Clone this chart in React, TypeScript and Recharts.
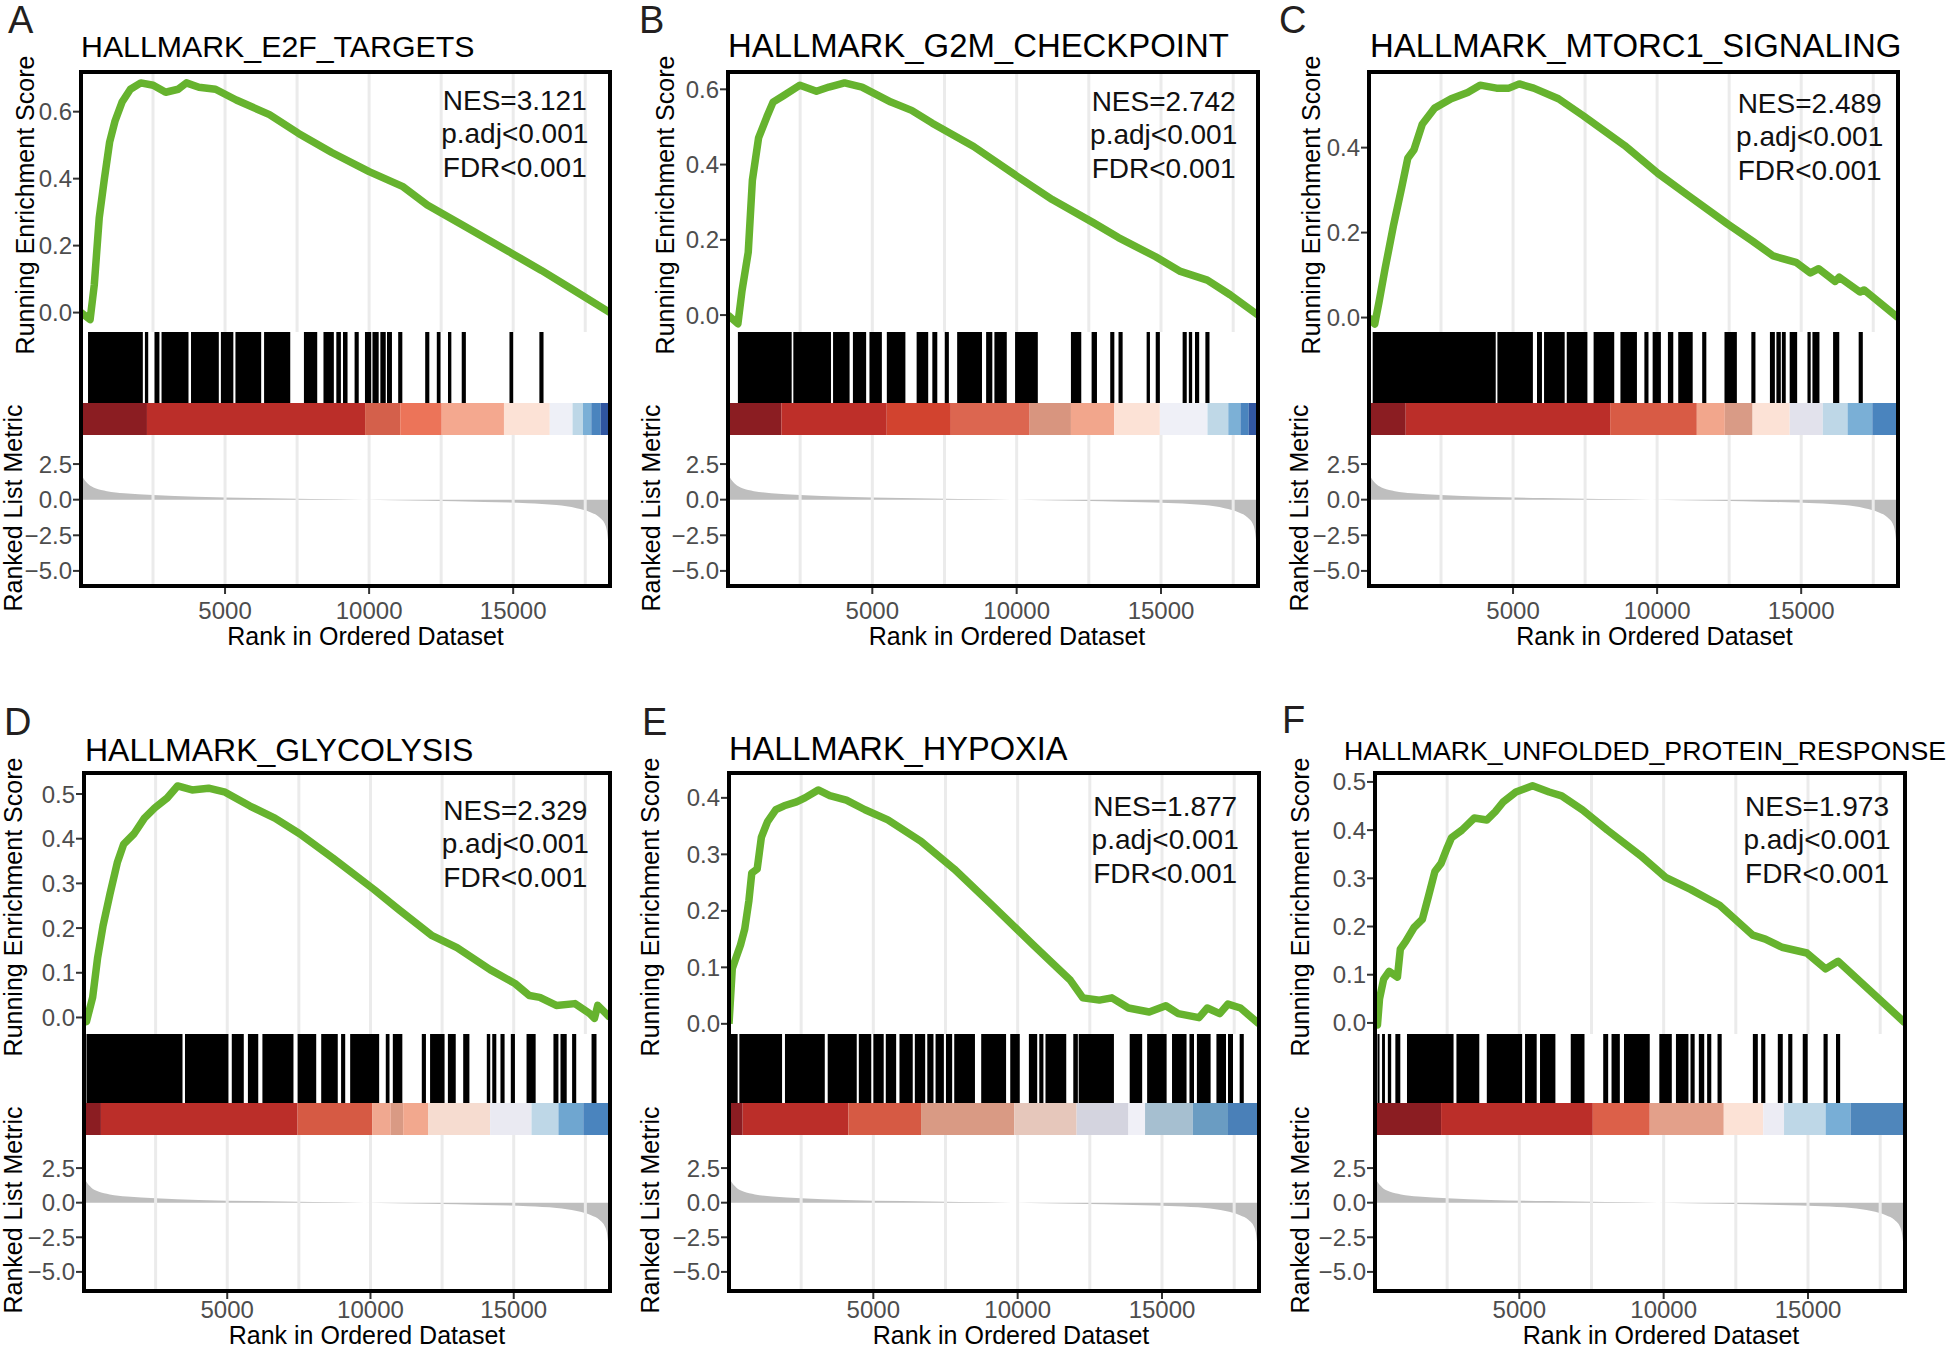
import React from 'react'
import {
  ComposedChart,
  LineChart,
  AreaChart,
  Line,
  Area,
  XAxis,
  YAxis,
  ReferenceArea,
  ReferenceLine,
} from 'recharts'

const FONT = '"Liberation Sans", Arial, Helvetica, sans-serif'
const GREEN = '#66B32E'
const X_MAX = 18360
const GRID_X = [2500, 5000, 7500, 10000, 12500, 15000, 17500]
const X_TICKS = [5000, 10000, 15000]
const RANK_TICKS = [-5, -2.5, 0, 2.5]

// ranked list metric (same ordered dataset for every panel)
const RANK_X = [1, 100, 250, 500, 900, 1500, 2500, 4000, 6000, 8000, 9800, 12000, 14000, 15500, 16500, 17200, 17700, 18000, 18200, 18280, 18330, 18360]
const RANK_M = [1.8, 1.45, 1.1, 0.8, 0.6, 0.45, 0.32, 0.2, 0.12, 0.05, 0.0, -0.08, -0.16, -0.25, -0.38, -0.6, -0.9, -1.25, -1.8, -2.6, -4.0, -5.8]

// A  HALLMARK_E2F_TARGETS
const E2F_X = [1, 317, 461, 634, 807, 994, 1182, 1427, 1715, 2075, 2507, 2940, 3372, 3660, 4093, 4669, 5390, 6542, 7551, 8704, 10001, 11154, 12018, 13315, 14972, 15981, 17062, 18360]
const E2F_ES = [0.0, -0.021, 0.082, 0.283, 0.396, 0.509, 0.572, 0.629, 0.667, 0.686, 0.679, 0.658, 0.667, 0.686, 0.673, 0.667, 0.635, 0.591, 0.535, 0.478, 0.421, 0.377, 0.321, 0.258, 0.176, 0.126, 0.069, 0.0]
const E2F_HITS = [[245, 2147], [2219, 2334], [2551, 2723], [2796, 3732], [3819, 4784], [4856, 5288], [5361, 6254], [6355, 7263], [7738, 8199], [8416, 8776], [8862, 9021], [9093, 9251], [9496, 9640], [9856, 10073], [10116, 10332], [10390, 10577], [10620, 10793], [11009, 11153], [11946, 12090], [12349, 12479], [12738, 12854], [13214, 13358], [14871, 15001], [15909, 16053]]
const E2F_EDGES = [1, 2290, 9860, 11080, 12520, 14680, 16270, 17060, 17420, 17710, 18040, 18360]
const E2F_COLORS = ['#8B1D22', '#BB2E29', '#D4604B', '#EC7459', '#F4A88F', '#FCE2D6', '#EEF0F7', '#BDD7E7', '#7AAFD6', '#4A84BE', '#2F55A0']

// B  HALLMARK_G2M_CHECKPOINT
const G2M_X = [1, 344, 487, 702, 845, 1060, 1347, 1562, 1920, 2493, 3066, 3496, 4040, 4642, 5645, 6361, 7077, 8510, 10014, 11232, 12665, 13524, 14814, 15673, 16604, 17392, 18360]
const G2M_ES = [0.0, -0.023, 0.065, 0.167, 0.358, 0.471, 0.527, 0.566, 0.583, 0.611, 0.595, 0.606, 0.617, 0.606, 0.566, 0.544, 0.51, 0.448, 0.369, 0.307, 0.245, 0.206, 0.155, 0.116, 0.093, 0.054, 0.0]
const G2M_HITS = [[344, 2207], [2264, 3568], [3640, 4213], [4328, 4786], [4901, 5331], [5503, 6146], [6535, 6936], [7079, 7251], [7509, 7652], [7939, 8799], [8942, 9157], [9229, 9658], [9945, 10733], [11880, 12238], [12596, 12782], [13241, 13384], [13528, 13671], [14502, 14617], [14817, 14961], [15749, 15892], [15964, 16079], [16178, 16322], [16537, 16680]]
const G2M_EDGES = [1, 1850, 5500, 7720, 10450, 11880, 13380, 14960, 16610, 17330, 17750, 18040, 18360]
const G2M_COLORS = ['#8B1D22', '#BE2F29', '#D2432F', '#DC6650', '#D8957F', '#F2A68C', '#FCE2D6', '#EFF0F7', '#BFD8E7', '#7CB0D6', '#4A84BE', '#3157A2']

// C  HALLMARK_MTORC1_SIGNALING
const MTORC1_X = [1, 200, 344, 559, 845, 1132, 1347, 1562, 1849, 2278, 2852, 3425, 3855, 4428, 4858, 5216, 5716, 6576, 7437, 8870, 10017, 11020, 12453, 13313, 14030, 14818, 15320, 15607, 16180, 16323, 17040, 17183, 18360]
const MTORC1_ES = [0.0, -0.015, 0.035, 0.115, 0.215, 0.305, 0.375, 0.395, 0.455, 0.493, 0.515, 0.53, 0.547, 0.54, 0.54, 0.55, 0.54, 0.515, 0.475, 0.405, 0.34, 0.29, 0.22, 0.18, 0.145, 0.13, 0.105, 0.115, 0.085, 0.095, 0.06, 0.065, 0.0]
const MTORC1_HITS = [[129, 4399], [4457, 5689], [5832, 6004], [6076, 6792], [6864, 7581], [7796, 8512], [8727, 9300], [9558, 9701], [9845, 10131], [10375, 10561], [10733, 11235], [11564, 11708], [12338, 12768], [13270, 13413], [13915, 14087], [14140, 14293], [14330, 14464], [14601, 14860], [15218, 15330], [15390, 15634], [16107, 16322], [16995, 17139]]
const MTORC1_EDGES = [1, 1275, 8370, 11378, 12350, 13313, 14602, 15749, 16609, 17468, 18360]
const MTORC1_COLORS = ['#8B1D22', '#BB2E29', '#D85B45', '#F2A68C', '#D99B86', '#FCE2D6', '#E2E2EC', '#BED7E7', '#7AAFD6', '#4A84BE']

// D  HALLMARK_GLYCOLYSIS
const GLYCO_X = [1, 87, 303, 477, 665, 910, 1170, 1387, 1748, 2110, 2471, 2904, 3266, 3771, 4349, 4927, 5794, 6661, 7528, 8684, 10129, 10996, 12152, 13019, 14175, 15042, 15548, 15909, 16487, 17137, 17643, 17817, 17932, 18360]
const GLYCO_ES = [0.0, -0.009, 0.045, 0.134, 0.205, 0.277, 0.348, 0.388, 0.411, 0.446, 0.469, 0.491, 0.518, 0.509, 0.513, 0.504, 0.473, 0.446, 0.411, 0.357, 0.286, 0.241, 0.183, 0.156, 0.107, 0.076, 0.049, 0.045, 0.027, 0.031, 0.009, -0.002, 0.027, 0.0]
const GLYCO_HITS = [[87, 3439], [3526, 5043], [5159, 5578], [5722, 6083], [6228, 7312], [7456, 8106], [8280, 8858], [8974, 9118], [9291, 10303], [10534, 10664], [10780, 11112], [11791, 11936], [12080, 12586], [12702, 12976], [13236, 13453], [14060, 14180], [14250, 14392], [14537, 14681], [14898, 15042], [15447, 15765], [16386, 16560], [16632, 16849], [17037, 17181], [17716, 17889]]
const GLYCO_EDGES = [1, 592, 7456, 10057, 10708, 11141, 12008, 14175, 15620, 16560, 17427, 18360]
const GLYCO_COLORS = ['#8B1D22', '#BB2E29', '#D65A44', '#F0A890', '#D99A84', '#F2A88E', '#F6DCD0', '#EAEAF2', '#BED7E7', '#6FA6D0', '#4A84BE']

// E  HALLMARK_HYPOXIA
const HYPOXIA_X = [1, 115, 259, 402, 546, 690, 790, 977, 1121, 1336, 1624, 1911, 2342, 2630, 3090, 3492, 4067, 4713, 5504, 6653, 7803, 9096, 10533, 11252, 11827, 12258, 12832, 13263, 13838, 14557, 15132, 15563, 16281, 16569, 17000, 17287, 17718, 18360]
const HYPOXIA_ES = [0.0, 0.098, 0.119, 0.14, 0.168, 0.218, 0.267, 0.274, 0.33, 0.358, 0.379, 0.386, 0.393, 0.4, 0.414, 0.404, 0.396, 0.379, 0.361, 0.323, 0.274, 0.211, 0.14, 0.105, 0.077, 0.046, 0.042, 0.046, 0.028, 0.021, 0.032, 0.018, 0.011, 0.028, 0.018, 0.035, 0.028, 0.0]
const HYPOXIA_HITS = [[1, 300], [360, 1839], [1940, 3319], [3420, 4426], [4498, 4929], [5001, 5360], [5432, 5791], [5906, 6366], [6438, 6797], [6869, 7084], [7156, 7444], [7516, 7731], [7803, 8521], [8737, 9599], [9743, 10073], [10389, 10677], [10749, 10892], [10964, 11683], [11927, 12085], [12114, 13335], [13881, 14313], [14485, 15160], [15347, 15850], [15951, 16109], [16209, 16684], [16885, 17216], [17287, 17460], [17690, 17833]]
const HYPOXIA_EDGES = [1, 474, 4138, 6653, 9886, 12042, 13838, 14413, 16066, 17287, 18360]
const HYPOXIA_COLORS = ['#8B1D22', '#BB2E29', '#D65A44', '#D99A84', '#E6C7BB', '#D4D4DF', '#F0F0F7', '#A6BFD0', '#6A9CC2', '#4A80B8']

// F  HALLMARK_UNFOLDED_PROTEIN_RESPONSE
const UPR_X = [1, 86, 158, 302, 490, 778, 878, 1066, 1354, 1642, 1858, 2074, 2290, 2506, 2650, 3010, 3442, 3874, 4162, 4450, 4882, 5458, 6034, 6466, 7186, 8050, 9202, 10066, 10930, 11938, 13090, 13522, 14098, 14962, 15610, 16042, 18360]
const UPR_ES = [0.0, -0.004, 0.05, 0.091, 0.107, 0.095, 0.153, 0.169, 0.198, 0.215, 0.264, 0.314, 0.331, 0.364, 0.384, 0.4, 0.425, 0.421, 0.438, 0.459, 0.479, 0.492, 0.479, 0.471, 0.442, 0.4, 0.347, 0.302, 0.277, 0.244, 0.182, 0.174, 0.157, 0.145, 0.112, 0.128, 0.0]
const UPR_HITS = [[86, 158], [245, 346], [446, 562], [706, 878], [1109, 2722], [2822, 3614], [3874, 5098], [5198, 5602], [5717, 6250], [6782, 7258], [7906, 8078], [8194, 8482], [8626, 9518], [9850, 10282], [10426, 10858], [10930, 11074], [11218, 11405], [11506, 11650], [11866, 12010], [13090, 13262], [13378, 13522], [13954, 14126], [14314, 14458], [14818, 14990], [15538, 15682], [15970, 16114]]
const UPR_EDGES = [1, 2290, 7546, 9518, 12082, 13450, 14170, 15610, 16474, 18360]
const UPR_COLORS = ['#8B1D22', '#BB2E29', '#DC6049', '#E3A08A', '#FCE2D6', '#ECECF4', '#BED7E7', '#78AED6', '#4F86BB']

// vertical layout of the two rows of panels
const ROW1 = { top: 72, esH: 260, hitsH: 71, barH: 32, rankH: 151, rankDomain: [-6.06, 4.54], tickMargin: 8, titleGap: 59 }
const ROW2 = { top: 773, esH: 261, hitsH: 69, barH: 32, rankH: 156, rankDomain: [-6.38, 4.89], tickMargin: 2, titleGap: 53 }

const NES_TAIL = ['p.adj<0.001', 'FDR<0.001']

const PANELS = [
  { letter: 'A', lx: 8, lb: 33, title: 'HALLMARK_E2F_TARGETS', tfs: 30.3, tx: 81, tb: 58, row: ROW1, bl: 81, bw: 529, esX: E2F_X, esY: E2F_ES, esDomain: [-0.058, 0.7185], esTicks: [0, 0.2, 0.4, 0.6], hits: E2F_HITS, edges: E2F_EDGES, colors: E2F_COLORS, nes: 'NES=3.121', nesFx: 0.82, nesB: 38, runX: -56, rankX: -68, xtX: 20 },
  { letter: 'B', lx: 639, lb: 33, title: 'HALLMARK_G2M_CHECKPOINT', tfs: 32.9, tx: 728, tb: 58, row: ROW1, bl: 728, bw: 530, esX: G2M_X, esY: G2M_ES, esDomain: [-0.045, 0.646], esTicks: [0, 0.2, 0.4, 0.6], hits: G2M_HITS, edges: G2M_EDGES, colors: G2M_COLORS, nes: 'NES=2.742', nesFx: 0.822, nesB: 39, runX: -63, rankX: -77, xtX: 14 },
  { letter: 'C', lx: 1279, lb: 33, title: 'HALLMARK_MTORC1_SIGNALING', tfs: 32.9, tx: 1370, tb: 58, row: ROW1, bl: 1369, bw: 529, esX: MTORC1_X, esY: MTORC1_ES, esDomain: [-0.034, 0.578], esTicks: [0, 0.2, 0.4], hits: MTORC1_HITS, edges: MTORC1_EDGES, colors: MTORC1_COLORS, nes: 'NES=2.489', nesFx: 0.833, nesB: 41, runX: -58, rankX: -70, xtX: 21 },
  { letter: 'D', lx: 4, lb: 735, title: 'HALLMARK_GLYCOLYSIS', tfs: 32, tx: 85, tb: 761, row: ROW2, bl: 84, bw: 526, esX: GLYCO_X, esY: GLYCO_ES, esDomain: [-0.037, 0.547], esTicks: [0, 0.1, 0.2, 0.3, 0.4, 0.5], hits: GLYCO_HITS, edges: GLYCO_EDGES, colors: GLYCO_COLORS, nes: 'NES=2.329', nesFx: 0.82, nesB: 47, runX: -71, rankX: -71, xtX: 20 },
  { letter: 'E', lx: 642, lb: 735, title: 'HALLMARK_HYPOXIA', tfs: 32.6, tx: 729, tb: 761, row: ROW2, bl: 729, bw: 530, esX: HYPOXIA_X, esY: HYPOXIA_ES, esDomain: [-0.018, 0.444], esTicks: [0, 0.1, 0.2, 0.3, 0.4], hits: HYPOXIA_HITS, edges: HYPOXIA_EDGES, colors: HYPOXIA_COLORS, nes: 'NES=1.877', nesFx: 0.823, nesB: 43, runX: -79, rankX: -79, xtX: 17 },
  { letter: 'F', lx: 1282, lb: 733, title: 'HALLMARK_UNFOLDED_PROTEIN_RESPONSE', tfs: 26.7, tx: 1344, tb: 761, row: ROW2, bl: 1375, bw: 530, esX: UPR_X, esY: UPR_ES, esDomain: [-0.023, 0.5185], esTicks: [0, 0.1, 0.2, 0.3, 0.4, 0.5], hits: UPR_HITS, edges: UPR_EDGES, colors: UPR_COLORS, nes: 'NES=1.973', nesFx: 0.834, nesB: 43, runX: -75, rankX: -75, xtX: 21 },
]

const AXW = 110
const XH = 80
const tickStyle = { fontSize: 24, fill: '#4D4D4D' }
const tickLineStyle = { stroke: '#333333', strokeWidth: 2 }
const fmtEs = (v: number) => v.toFixed(1)
const fmtRank = (v: number) => (v < 0 ? '\u2212' + (-v).toFixed(1) : v.toFixed(1))

// text placed by its baseline (line-height 1)
function BaseText({ x, base, fs, children, style }: any) {
  return (
    <div
      style={{
        position: 'absolute',
        left: x,
        top: base - fs * 0.8465,
        fontSize: fs,
        lineHeight: 1,
        whiteSpace: 'nowrap',
        ...style,
      }}
    >
      {children}
    </div>
  )
}

function GseaPanel({ p }: any) {
  const { top: bt, esH, hitsH, barH, rankH, rankDomain, tickMargin, titleGap } = p.row
  const bl = p.bl
  const bw = p.bw
  const bh = esH + hitsH + barH + rankH
  const chartW = AXW + bw
  const left = bl - AXW

  const esData = p.esX.map((x: number, i: number) => ({ x, es: p.esY[i] }))
  const rankData = RANK_X.map((x, i) => ({ x, m: RANK_M[i] }))
  const frame = [{ x: 1, y0: 0 }, { x: X_MAX, y0: 0 }]
  const segs = p.colors.map((c: string, i: number) => ({ x1: p.edges[i], x2: p.edges[i + 1], c }))

  return (
    <>
      {/* running enrichment score */}
      <div style={{ position: 'absolute', left, top: bt }}>
        <LineChart width={chartW} height={esH} data={esData} margin={{ top: 0, right: 0, bottom: 0, left: 0 }}>
          <XAxis dataKey="x" type="number" domain={[1, X_MAX]} hide allowDataOverflow />
          <YAxis
            type="number"
            domain={p.esDomain}
            ticks={p.esTicks}
            interval={0}
            width={AXW}
            axisLine={false}
            tickLine={tickLineStyle}
            tickSize={8}
            tickMargin={1}
            tick={tickStyle}
            tickFormatter={fmtEs}
            allowDataOverflow
          />
          {GRID_X.map(g => (
            <ReferenceLine key={g} x={g} stroke="#EBEBEB" strokeWidth={3} />
          ))}
          <Line
            type="linear"
            dataKey="es"
            stroke={GREEN}
            strokeWidth={7.5}
            strokeLinejoin="round"
            dot={false}
            isAnimationActive={false}
          />
        </LineChart>
      </div>

      {/* gene set hits */}
      <div style={{ position: 'absolute', left, top: bt + esH }}>
        <ComposedChart width={chartW} height={hitsH} data={frame} margin={{ top: 0, right: 0, bottom: 0, left: AXW }}>
          <XAxis dataKey="x" type="number" domain={[1, X_MAX]} hide />
          <YAxis type="number" domain={[0, 1]} hide />
          <Line dataKey="y0" stroke="none" dot={false} isAnimationActive={false} />
          {p.hits.map(([a, b]: number[], i: number) => (
            <ReferenceArea key={i} x1={a} x2={b} y1={0} y2={1} fill="#000000" fillOpacity={1} stroke="none" />
          ))}
        </ComposedChart>
      </div>

      {/* ranked metric colour bar */}
      <div style={{ position: 'absolute', left, top: bt + esH + hitsH }}>
        <ComposedChart width={chartW} height={barH} data={frame} margin={{ top: 0, right: 0, bottom: 0, left: AXW }}>
          <XAxis dataKey="x" type="number" domain={[1, X_MAX]} hide />
          <YAxis type="number" domain={[0, 1]} hide />
          <Line dataKey="y0" stroke="none" dot={false} isAnimationActive={false} />
          {segs.map((s: any, i: number) => (
            <ReferenceArea key={i} x1={s.x1} x2={s.x2} y1={0} y2={1} fill={s.c} fillOpacity={1} stroke="none" />
          ))}
        </ComposedChart>
      </div>

      {/* ranked list metric */}
      <div style={{ position: 'absolute', left, top: bt + esH + hitsH + barH }}>
        <AreaChart width={chartW} height={rankH + XH} data={rankData} margin={{ top: 0, right: 0, bottom: 0, left: 0 }}>
          <XAxis
            dataKey="x"
            type="number"
            domain={[1, X_MAX]}
            ticks={X_TICKS}
            interval={0}
            height={XH}
            axisLine={false}
            tickLine={tickLineStyle}
            tickSize={8}
            tickMargin={tickMargin}
            tick={tickStyle}
            allowDataOverflow
          />
          <YAxis
            type="number"
            domain={rankDomain}
            ticks={RANK_TICKS}
            interval={0}
            width={AXW}
            axisLine={false}
            tickLine={tickLineStyle}
            tickSize={8}
            tickMargin={1}
            tick={tickStyle}
            tickFormatter={fmtRank}
            allowDataOverflow
          />
          {GRID_X.map(g => (
            <ReferenceLine key={g} x={g} stroke="#EBEBEB" strokeWidth={3} />
          ))}
          <Area
            type="monotone"
            dataKey="m"
            stroke="none"
            fill="#BEBEBE"
            fillOpacity={1}
            baseValue={0}
            isAnimationActive={false}
          />
        </AreaChart>
      </div>

      {/* frame */}
      <div
        style={{
          position: 'absolute',
          left: bl - 2,
          top: bt - 2,
          width: bw + 4,
          height: bh + 4,
          border: '4px solid #000',
          boxSizing: 'border-box',
          pointerEvents: 'none',
        }}
      />

      <BaseText x={p.lx} base={p.lb} fs={38} style={{ color: '#231F20' }}>
        {p.letter}
      </BaseText>
      <BaseText x={p.tx} base={p.tb} fs={p.tfs} style={{ color: '#000' }}>
        {p.title}
      </BaseText>

      <div
        style={{
          position: 'absolute',
          left: bl + p.nesFx * bw,
          top: bt + p.nesB - 26.4,
          transform: 'translateX(-50%)',
          fontSize: 28,
          lineHeight: '33.5px',
          textAlign: 'center',
          whiteSpace: 'nowrap',
          color: '#111',
        }}
      >
        <div>{p.nes}</div>
        {NES_TAIL.map(t => (
          <div key={t}>{t}</div>
        ))}
      </div>

      <div
        style={{
          position: 'absolute',
          left: bl + p.runX,
          top: bt + esH / 2 + 3,
          transform: 'translate(-50%, -50%) rotate(-90deg)',
          fontSize: 25,
          lineHeight: 1,
          whiteSpace: 'nowrap',
        }}
      >
        Running Enrichment Score
      </div>
      <div
        style={{
          position: 'absolute',
          left: bl + p.rankX,
          top: bt + esH + hitsH + barH + rankH / 2 - 3,
          transform: 'translate(-50%, -50%) rotate(-90deg)',
          fontSize: 25,
          lineHeight: 1,
          whiteSpace: 'nowrap',
        }}
      >
        Ranked List Metric
      </div>
      <BaseText
        x={bl + bw / 2 + p.xtX}
        base={bt + bh + titleGap}
        fs={25}
        style={{ transform: 'translateX(-50%)' }}
      >
        Rank in Ordered Dataset
      </BaseText>
    </>
  )
}

export default function App() {
  return (
    <div
      style={{
        position: 'absolute',
        left: 0,
        top: 0,
        width: 1946,
        height: 1348,
        background: '#FFFFFF',
        overflow: 'hidden',
        fontFamily: FONT,
        color: '#000',
      }}
    >
      {/* let tick labels near a chart edge spill over instead of being clipped */}
      <style>{'.recharts-surface{overflow:visible}'}</style>
      {PANELS.map(p => (
        <GseaPanel key={p.letter} p={p} />
      ))}
    </div>
  )
}
